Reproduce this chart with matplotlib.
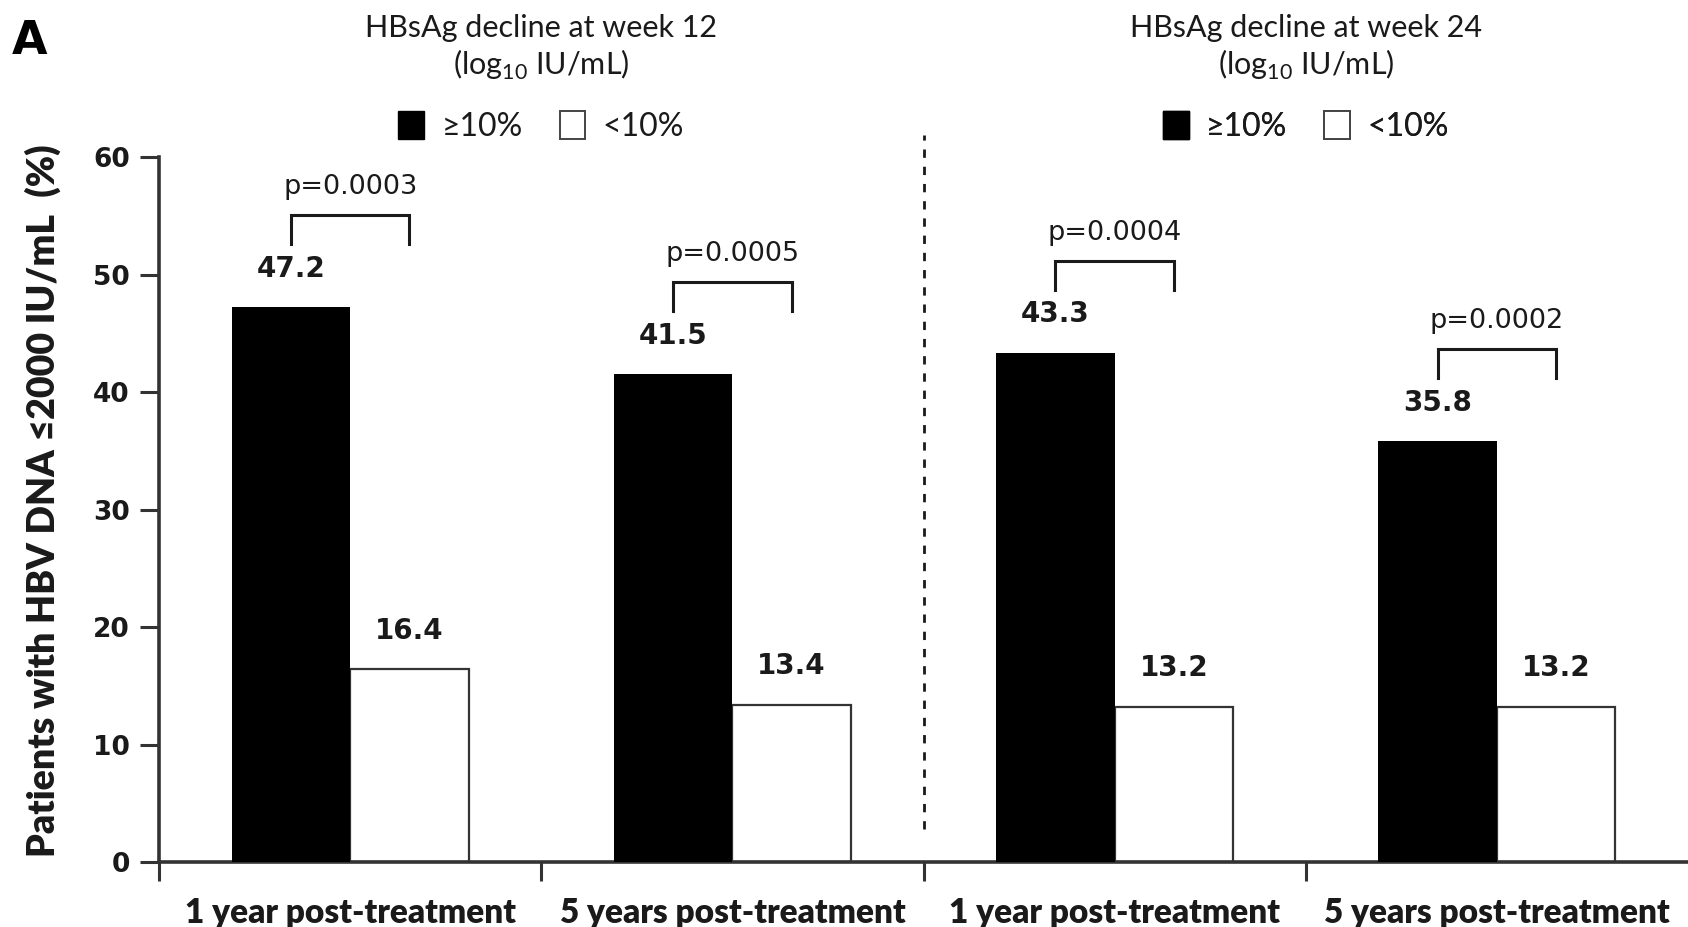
import matplotlib
matplotlib.use("Agg")
import matplotlib.pyplot as plt
from matplotlib.patches import Patch
from matplotlib.ticker import FixedLocator

# ---- data -------------------------------------------------------------
timepoints = ["1 year post-treatment", "5 years post-treatment",
              "1 year post-treatment", "5 years post-treatment"]
panel_titles = ["HBsAg decline at week 12", "HBsAg decline at week 24"]
decline_ge10 = [47.2, 41.5, 43.3, 35.8]   # HBsAg decline >=10%
decline_lt10 = [16.4, 13.4, 13.2, 13.2]   # HBsAg decline <10%
p_values = ["p=0.0003", "p=0.0005", "p=0.0004", "p=0.0002"]
legend_labels = ["\u226510%", "<10%"]
y_ticks = [0, 10, 20, 30, 40, 50, 60]

# ---- fonts --------------------------------------------------------------
HUMANIST = ["Lato", "DejaVu Sans"]
WIDE = ["DejaVu Sans"]
plt.rcParams["font.family"] = HUMANIST
plt.rcParams["mathtext.fontset"] = "custom"
plt.rcParams["mathtext.rm"] = "Lato"

INK = "#1a1a1a"
AXIS = "#333333"

fig = plt.figure(figsize=(16.88, 9.27), dpi=100)
ax = fig.add_axes([0.0942, 0.0701, 0.9058, 0.7605])

n = len(timepoints)
centers = [i + 0.5 for i in range(n)]
w = 0.31

ax.bar([c - w / 2 for c in centers], decline_ge10, w, color="black",
       edgecolor="black", linewidth=0, zorder=3)
ax.bar([c + w / 2 for c in centers], decline_lt10, w, facecolor="white",
       edgecolor=AXIS, linewidth=1.6, zorder=2)

# value labels
for c, v1, v2 in zip(centers, decline_ge10, decline_lt10):
    ax.text(c - w / 2, v1 + 3.3, f"{v1}", ha="center", va="center",
            fontsize=20, fontweight="bold", family=WIDE, color=INK)
    ax.text(c + w / 2, v2 + 3.3, f"{v2}", ha="center", va="center",
            fontsize=20, fontweight="bold", family=WIDE, color=INK)

# significance brackets
for c, v1, p in zip(centers, decline_ge10, p_values):
    lo = v1 + 5.4
    hi = lo + 2.45
    ax.plot([c - w / 2, c - w / 2, c + w / 2, c + w / 2], [lo, hi, hi, lo],
            color=INK, lw=2.2, solid_joinstyle="miter", clip_on=False, zorder=4)
    ax.text(c, hi + 2.4, p, ha="center", va="center", fontsize=19.5,
            family=WIDE, color=INK, clip_on=False)

# panel separator
ax.plot([2, 2], [2.8, 61.9], color=INK, lw=2, linestyle=(0, (3, 3.2)),
        clip_on=False, zorder=1)

# axes styling
ax.set_xlim(0, 4)
ax.set_ylim(0, 60)
for s in ["top", "right"]:
    ax.spines[s].set_visible(False)
for s in ["left", "bottom"]:
    ax.spines[s].set_linewidth(2.6)
    ax.spines[s].set_color(AXIS)

ax.set_yticks(y_ticks)
ax.set_yticklabels([str(t) for t in y_ticks], fontsize=19, fontweight="bold",
                   family=WIDE, color=INK)
ax.tick_params(axis="y", length=14, width=2.2, color=AXIS, pad=7)

ax.set_xticks(centers)
ax.set_xticklabels(timepoints, fontsize=24, fontweight="heavy", color=INK)
ax.tick_params(axis="x", which="major", length=0, pad=25)
ax.xaxis.set_minor_locator(FixedLocator([0, 1, 2, 3]))
ax.tick_params(axis="x", which="minor", length=14, width=2.2, color=AXIS)

# panel headers and legends
for k, title in enumerate(panel_titles):
    xc = 1 + 2 * k
    ax.text(xc, 71.0, title, ha="center", va="center", fontsize=22,
            color=INK, clip_on=False)
    ax.text(xc, 67.8, r"(log$_{\mathregular{10}}$ IU/mL)", ha="center",
            va="center", fontsize=22, color=INK, clip_on=False)
    handles = [Patch(facecolor="black", edgecolor="black"),
               Patch(facecolor="white", edgecolor="#444444", linewidth=1.4)]
    leg = ax.legend(handles, legend_labels, ncol=2, frameon=False,
                    loc="center", bbox_to_anchor=(xc, 62.6),
                    bbox_transform=ax.transData, fontsize=23,
                    handlelength=0.8, handleheight=0.95, handletextpad=0.55,
                    columnspacing=1.15, borderpad=0, borderaxespad=0)
    for t in leg.get_texts():
        t.set_color(INK)
    ax.add_artist(leg)

fig.text(0.0255, 0.46, "Patients with HBV DNA \u22642000 IU/mL  (%)",
         rotation=90, ha="center", va="center", fontsize=27,
         fontweight="heavy", color=INK)
fig.text(0.007, 0.979, "A", ha="left", va="top", fontsize=33,
         fontweight="bold", family=WIDE, color="black")

fig.savefig("out.png", dpi=100)
